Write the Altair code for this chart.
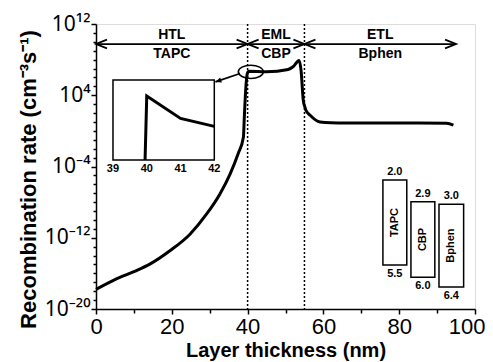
import altair as alt
import pandas as pd

# ---- main curve: layer thickness (nm) vs log10(recombination rate) ----
thickness = [0, 5, 10, 14.2, 19.5, 24.8, 29.2, 32.7, 35.4, 37.5, 38.9, 39.1, 39.5,
             39.9, 40.3, 45, 50.7, 52, 53.6, 54.1, 54.7, 55.1, 55.4, 56.5, 59.1, 62,
             66, 80, 92.5, 94.3]
log_rate = [-17.8, -16.7, -15.8, -14.96, -13.46, -11.6, -9.33, -7.08, -4.82, -2.57,
            -0.7, 1.2, 4.6, 6.4, 6.7, 6.63, 6.9, 7.2, 7.9, 6.8, 3.4, 2.7, 2.3, 1.75,
            1.0, 0.9, 0.88, 0.88, 0.86, 0.65]

# ---- layers ----
layer_names = ["HTL", "EML", "ETL"]
layer_mats = ["TAPC", "CBP", "Bphen"]
layer_start = [0, 40, 55]
layer_end = [40, 55, 95]
interfaces = [40, 55]

# ---- inset (zoom of 39-42 nm), relative height inside the inset frame ----
inset_x = [39.95, 40, 41, 42]
inset_y = [0.0, 0.80, 0.52, 0.42]
inset_ticks = [39, 40, 41, 42]

# ---- energy level diagram (eV) ----
materials = ["TAPC", "CBP", "Bphen"]
lumo = [2.0, 2.9, 3.0]
homo = [5.5, 6.0, 6.4]

# ---- layout constants (not data) ----
box_left = [75.7, 83.1, 90.5]
box_right = [82.0, 89.4, 97.0]
ARROW_LEVEL = 10 ** 9.75
ELLIPSE_X, ELLIPSE_Y = 40.85, 10 ** 6.63
POINTER = dict(x=38.0, y=10 ** 6.44, x2=31.5, y2=10 ** 5.5)

FONT = "Liberation Sans"
W, H = 379, 285

SUP = {"0": "\u2070", "1": "\u00b9", "2": "\u00b2", "3": "\u00b3", "4": "\u2074",
       "-": "\u207b"}


def sup(n):
    return "".join(SUP[c] for c in str(n))


exp_expr = "round(log(datum.value)/LN10)"
label_expr = ""
for e in [12, 4, -4, -12, -20]:
    label_expr += f"{exp_expr} == {e} ? '10{sup(e)}' : "
label_expr += "''"

x_scale = alt.Scale(domain=[0, 100], nice=False, zero=False)
y_scale = alt.Scale(type="log", domain=[1e-20, 1e12], nice=False)

x_axis = alt.Axis(
    values=list(range(0, 101, 10)),
    labelExpr="datum.value % 20 == 0 ? datum.label : ''",
    tickSize={"condition": {"test": "datum.value % 20 == 0", "value": 5}, "value": 4},
    labelAlign={"condition": {"test": "datum.value == 100", "value": "right"}, "value": "center"},
    labelOffset={"condition": {"test": "datum.value == 100", "value": 10}, "value": 0},
    grid=False, labelFontSize=22, labelFont=FONT, labelColor="black",
    labelPadding=2, tickColor="black", tickWidth=1.5, domainColor="black",
    domainWidth=1.5, title="Layer thickness (nm)", titleFont=FONT,
    titleFontSize=20, titleFontWeight="bold", titleColor="black", titlePadding=3,
)
y_axis = alt.Axis(
    values=[10.0 ** k for k in range(-20, 13)],
    labelExpr=label_expr,
    tickSize={"condition": {"test": f"abs({exp_expr}) % 8 == 4", "value": 5}, "value": 3},
    grid=False, labelFontSize=21, labelFont="Noto Sans", labelColor="black",
    labelPadding=1, tickColor="black", tickWidth=1.5, domainColor="black",
    domainWidth=1.5, title="Recombination rate (cm\u207b\u00b3s\u207b\u00b9)",
    titleFont=FONT, titleFontSize=22, titleFontWeight="bold", titleColor="black",
    titlePadding=4, titleY=155,
)


def X(field="x"):
    return alt.X(f"{field}:Q", scale=x_scale, axis=x_axis)


def Y(field="y"):
    return alt.Y(f"{field}:Q", scale=y_scale, axis=y_axis)


curve_df = pd.DataFrame({"x": thickness, "y": [10 ** v for v in log_rate]})
curve = alt.Chart(curve_df).mark_line(
    color="black", strokeWidth=3, strokeJoin="round", interpolate="monotone"
).encode(x=X(), y=Y())

rules = alt.Chart(pd.DataFrame({"x": interfaces})).mark_rule(
    color="black", strokeWidth=1.5, strokeDash=[2, 2]).encode(x=X())

lay_df = pd.DataFrame({"name": layer_names, "mat": layer_mats, "x": layer_start,
                       "x2": layer_end, "y": [ARROW_LEVEL] * 3})
lay_df["mid"] = (lay_df["x"] + lay_df["x2"]) / 2
arrow_lines = alt.Chart(lay_df).mark_rule(color="black", strokeWidth=1.8).encode(
    x=X(), x2="x2:Q", y=Y())
head_l = alt.Chart(lay_df).mark_point(
    shape="M 2 -0.8 L 0 0 L 2 0.8", size=121, filled=False, color="black",
    strokeWidth=1.8, opacity=1).encode(x=X(), y=Y())
head_r = alt.Chart(lay_df).mark_point(
    shape="M -2 -0.8 L 0 0 L -2 0.8", size=121, filled=False, color="black",
    strokeWidth=1.8, opacity=1).encode(x=X("x2"), y=Y())
name_txt = alt.Chart(lay_df).mark_text(
    font=FONT, fontSize=14, fontWeight="bold", baseline="bottom", dy=-2, color="black"
).encode(x=X("mid"), y=Y(), text="name:N")
mat_txt = alt.Chart(lay_df).mark_text(
    font=FONT, fontSize=14, fontWeight="bold", baseline="top", dy=3, color="black"
).encode(x=X("mid"), y=Y(), text="mat:N")

ellipse = alt.Chart(pd.DataFrame({"x": [ELLIPSE_X], "y": [ELLIPSE_Y]})).mark_point(
    shape="M -1 0 A 1 0.53 0 1 1 1 0 A 1 0.53 0 1 1 -1 0 Z", size=625, filled=False,
    color="black", strokeWidth=1.6, opacity=1).encode(x=X(), y=Y())

ptr_df = pd.DataFrame({"x": [POINTER["x"]], "y": [POINTER["y"]],
                       "x2": [POINTER["x2"]], "y2": [POINTER["y2"]]})
ptr_line = alt.Chart(ptr_df).mark_rule(color="black", strokeWidth=1.8).encode(
    x=X(), y=Y(), x2="x2:Q", y2="y2:Q")
ptr_head = alt.Chart(ptr_df).mark_point(
    shape="M 0 0 L -2 -0.9 L -2 0.9 Z", size=36, filled=True, color="black",
    angle=161, opacity=1).encode(x=X("x2"), y=Y("y2"))

main = alt.layer(curve, rules, arrow_lines, head_l, head_r, name_txt, mat_txt,
                 ellipse, ptr_line, ptr_head)

# ---- inset ----
ix = alt.Scale(domain=[38.497, 49.72], nice=False, zero=False)
iy = alt.Scale(domain=[-1.8625, 1.7], nice=False, zero=False)
frame = alt.Chart(pd.DataFrame({"x": [39], "x2": [42], "y": [0], "y2": [1]})).mark_rect(
    fill="white", stroke="black", strokeWidth=1.5).encode(
    x=alt.X("x:Q", scale=ix, axis=None), x2="x2:Q",
    y=alt.Y("y:Q", scale=iy, axis=None), y2="y2:Q")
inset_line = alt.Chart(pd.DataFrame({"x": inset_x, "y": inset_y})).mark_line(
    color="black", strokeWidth=3).encode(
    x=alt.X("x:Q", scale=ix, axis=None), y=alt.Y("y:Q", scale=iy, axis=None))
inset_lbl = alt.Chart(pd.DataFrame({"x": inset_ticks, "y": [0] * 4})).mark_text(
    font=FONT, fontSize=11, fontWeight="bold", baseline="top", dy=3, color="black"
).encode(x=alt.X("x:Q", scale=ix, axis=None), y=alt.Y("y:Q", scale=iy, axis=None),
         text="x:N")
inset = alt.layer(frame, inset_line, inset_lbl)

# ---- energy diagram ----
ey = alt.Scale(domain=[-4.42, 7.31], reverse=True, nice=False, zero=False)
ex = alt.Scale(domain=[0, 100], nice=False, zero=False)
e_df = pd.DataFrame({"m": materials, "l": lumo, "h": homo, "x": box_left, "x2": box_right})
e_df["mid"] = (e_df["x"] + e_df["x2"]) / 2
e_df["c"] = (e_df["l"] + e_df["h"]) / 2
e_df["ltxt"] = [f"{v:.1f}" for v in lumo]
e_df["htxt"] = [f"{v:.1f}" for v in homo]
eb = alt.Chart(e_df)
boxes = eb.mark_rect(fill="white", stroke="black", strokeWidth=1.5).encode(
    x=alt.X("x:Q", scale=ex, axis=None), x2="x2:Q",
    y=alt.Y("l:Q", scale=ey, axis=None), y2="h:Q")
etxt = dict(font=FONT, fontSize=11, fontWeight="bold", color="black")
l_txt = eb.mark_text(baseline="bottom", dy=-3, **etxt).encode(
    x=alt.X("mid:Q", scale=ex, axis=None), y=alt.Y("l:Q", scale=ey, axis=None), text="ltxt:N")
h_txt = eb.mark_text(baseline="top", dy=3, **etxt).encode(
    x=alt.X("mid:Q", scale=ex, axis=None), y=alt.Y("h:Q", scale=ey, axis=None), text="htxt:N")
m_txt = eb.mark_text(angle=270, baseline="middle", **etxt).encode(
    x=alt.X("mid:Q", scale=ex, axis=None), y=alt.Y("c:Q", scale=ey, axis=None), text="m:N")
energy = alt.layer(boxes, l_txt, h_txt, m_txt)

chart = alt.layer(main, inset, energy).resolve_scale(
    x="independent", y="independent"
).properties(
    width=W, height=H, autosize=alt.AutoSizeParams(type="none"),
    padding={"left": 88, "top": 16, "right": 10, "bottom": 53},
).configure_view(stroke="black", strokeWidth=1.5).configure(background="white")

chart.save("out.html", embed_options={"renderer": "svg", "actions": False})
